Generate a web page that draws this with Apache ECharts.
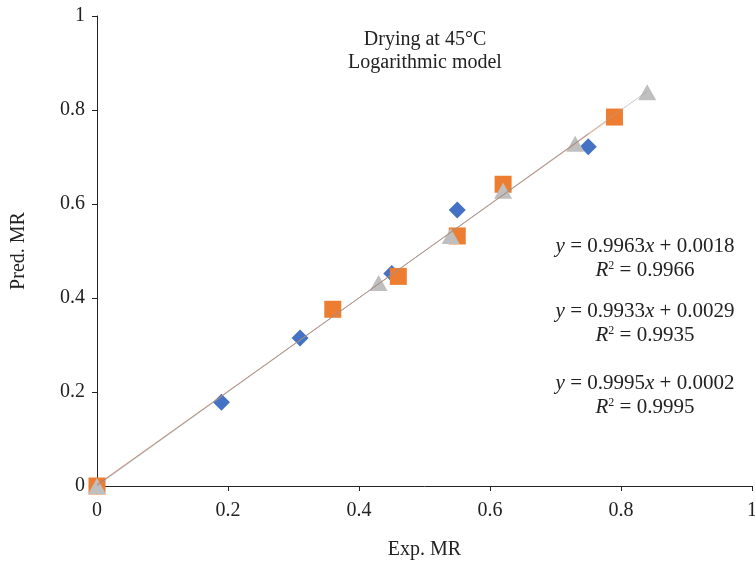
<!DOCTYPE html>
<html><head><meta charset="utf-8">
<script src="https://cdn.jsdelivr.net/npm/echarts@6/dist/echarts.min.js"></script>
<style>html,body{margin:0;padding:0;background:#fff}#c{width:755px;height:565px}</style>
</head><body><div id="c"></div>
<script>
const seriesNames = ['Series A', 'Series B', 'Series C'];
const blueX = [0, 0.19, 0.31, 0.45, 0.55, 0.75];
const blueY = [0, 0.178, 0.315, 0.452, 0.587, 0.722];
const orangeX = [0, 0.36, 0.46, 0.55, 0.62, 0.79];
const orangeY = [0, 0.376, 0.446, 0.532, 0.642, 0.785];
const grayX = [0, 0.43, 0.54, 0.62, 0.73, 0.84];
const grayY = [0, 0.432, 0.532, 0.628, 0.728, 0.838];
const slopes = [0.9963, 0.9933, 0.9995];
const intercepts = [0.0018, 0.0029, 0.0002];
const r2 = ['0.9966', '0.9935', '0.9995'];
const colors = ['#4472C4', '#ED7D31', '#BFBFBF'];
const lineColors = ['#4472C4', '#ED7D31', '#A5A5A5'];
const ticksLabels = ['0', '0.2', '0.4', '0.6', '0.8', '1'];

const font = 'Liberation Serif';
const chart = echarts.init(document.getElementById('c'));
const xs = [blueX, orangeX, grayX];
const ys = [blueY, orangeY, grayY];
const symbols = ['diamond', 'rect', 'triangle'];
const sizes = [17, 17, [18, 16]];

const series = [];
for (let i = 0; i < 3; i++) {
  series.push({
    name: seriesNames[i], type: 'scatter', symbol: symbols[i], symbolSize: sizes[i],
    itemStyle: {color: colors[i], opacity: 1}, z: 2 + i,
    data: xs[i].map((x, k) => [x, ys[i][k]])
  });
}
for (let i = 0; i < 3; i++) {
  const xmax = Math.max(...xs[i]);
  series.push({
    type: 'line', showSymbol: false, symbol: 'none', z: 10,
    lineStyle: {color: lineColors[i], width: 1, opacity: 0.6},
    data: [[0, intercepts[i]], [xmax, slopes[i] * xmax + intercepts[i]]]
  });
}

const eqX = 645;
const eqY = [246, 311, 383];
const graphics = [];
const fs = 21;
const rich = {
  n: {fontFamily: font, fontSize: fs, fill: '#222'},
  i: {fontStyle: 'italic', fontFamily: font, fontSize: fs, fill: '#222'},
  s: {fontSize: 12, fontFamily: font, fill: '#222', padding: [0, 0, 9, 0]}
};
for (let i = 0; i < 3; i++) {
  graphics.push({type: 'text', x: eqX, y: eqY[i], style: {
    text: '{i|y}{n| = ' + slopes[i].toFixed(4) + '}{i|x}{n| + ' + intercepts[i].toFixed(4) + '}',
    font: fs + 'px ' + font, fill: '#222', align: 'center', verticalAlign: 'middle', rich: rich}});
  graphics.push({type: 'text', x: eqX, y: eqY[i] + 24, style: {
    text: '{i|R}{s|2}{n| = ' + r2[i] + '}',
    font: fs + 'px ' + font, fill: '#222', align: 'center', verticalAlign: 'middle', rich: rich}});
}
graphics.push({type: 'text', x: 425, y: 40, style: {text: 'Drying at 45°C', font: '20px ' + font, fill: '#222', align: 'center', verticalAlign: 'middle'}});
graphics.push({type: 'text', x: 425, y: 63, style: {text: 'Logarithmic model', font: '20px ' + font, fill: '#222', align: 'center', verticalAlign: 'middle'}});

chart.setOption({
  animation: false,
  grid: {left: 97, right: 3, top: 16, bottom: 79, containLabel: false, outerBoundsMode: 'none'},
  xAxis: {type: 'value', min: 0, max: 1, interval: 0.2, name: 'Exp. MR', nameLocation: 'middle', nameGap: 54,
    nameTextStyle: {fontFamily: font, fontSize: 20, color: '#222'},
    axisLine: {show: true, lineStyle: {color: '#222', width: 1}},
    axisTick: {show: true, length: 5, lineStyle: {color: '#222'}},
    axisLabel: {fontFamily: font, fontSize: 20, color: '#222', margin: 15, formatter: v => ticksLabels[Math.round(v * 5)]},
    splitLine: {show: false}},
  yAxis: {type: 'value', min: 0, max: 1, interval: 0.2, name: 'Pred. MR', nameLocation: 'middle', nameGap: 68,
    nameTextStyle: {fontFamily: font, fontSize: 20, color: '#222'},
    axisLine: {show: true, lineStyle: {color: '#222', width: 1}},
    axisTick: {show: true, length: 5, lineStyle: {color: '#222'}},
    axisLabel: {fontFamily: font, fontSize: 20, color: '#222', margin: 12, formatter: v => ticksLabels[Math.round(v * 5)]},
    splitLine: {show: false}},
  series: series,
  graphic: graphics
});
</script></body></html>
